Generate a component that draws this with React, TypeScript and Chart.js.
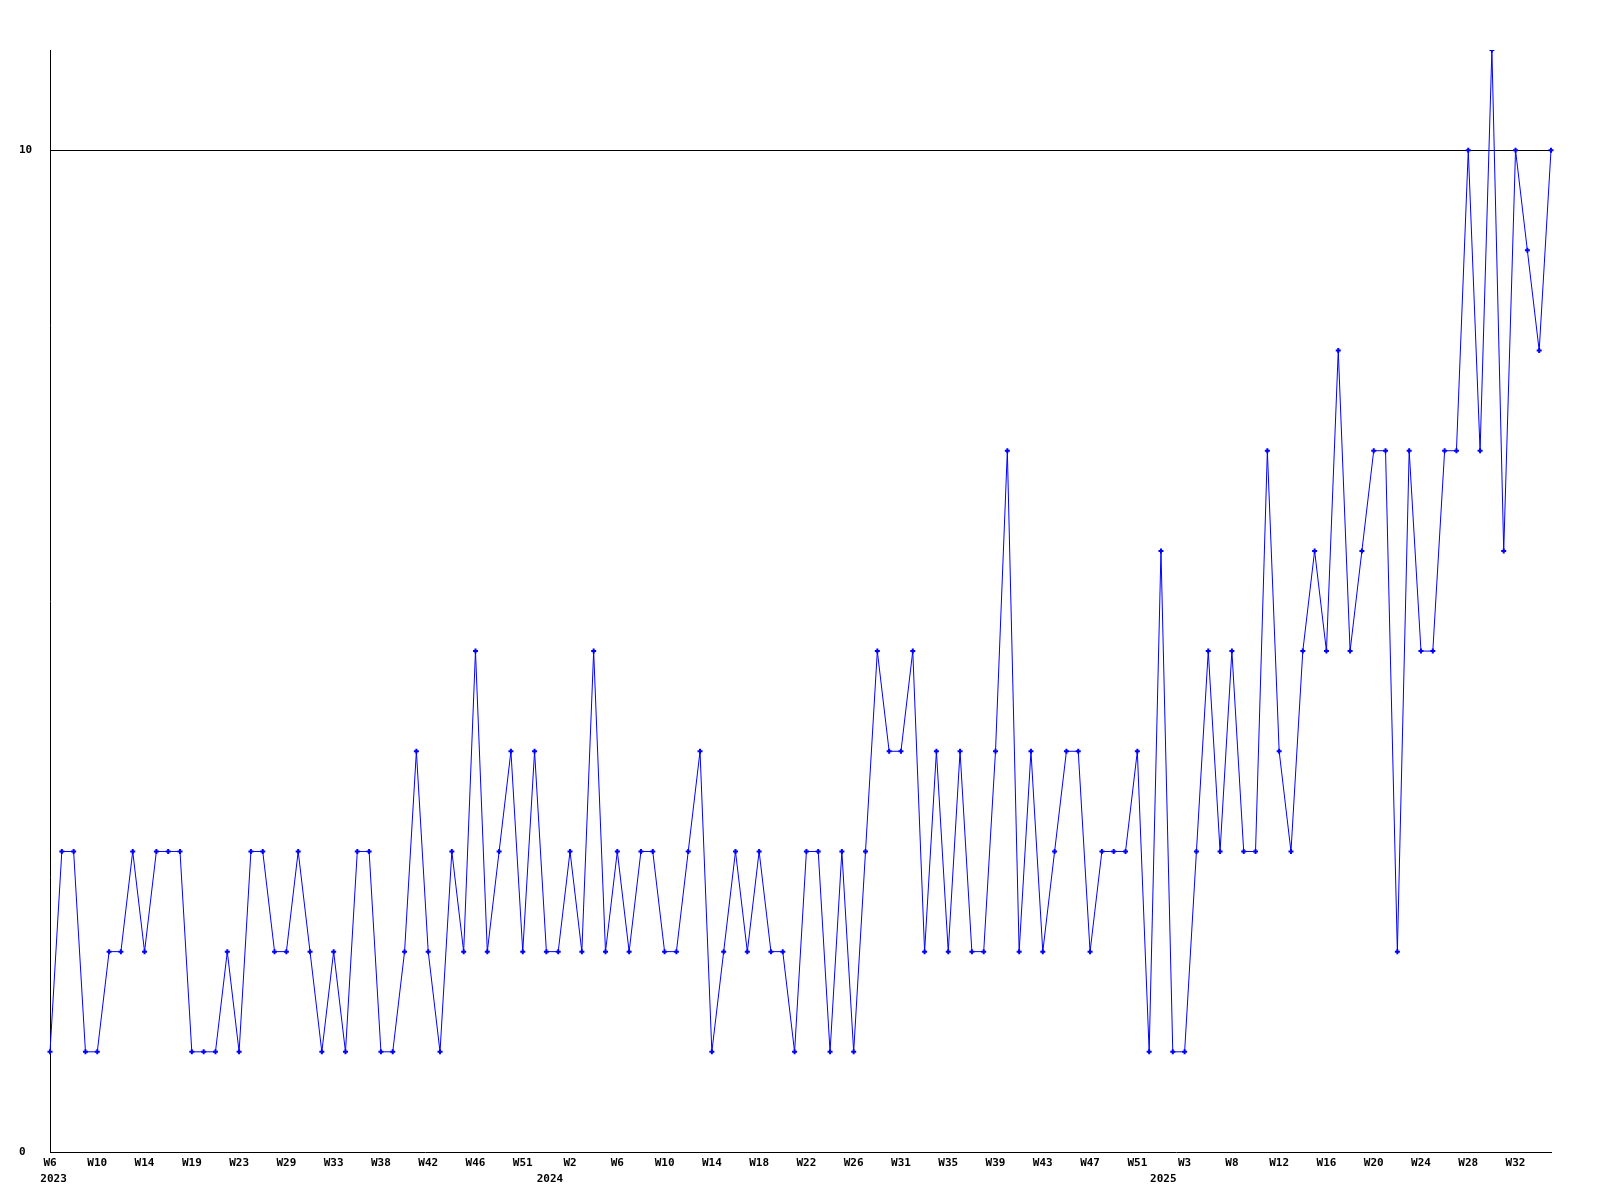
import React, { useEffect, useRef } from "react";
import { Chart, registerables } from "chart.js";

Chart.register(...registerables);

// Weekly values, one per point (128 points)
const values: number[] = [
  1, 3, 3, 1, 1, 2, 2, 3, 2, 3, 3, 3, 1, 1, 1, 2,
  1, 3, 3, 2, 2, 3, 2, 1, 2, 1, 3, 3, 1, 1, 2, 4,
  2, 1, 3, 2, 5, 2, 3, 4, 2, 4, 2, 2, 3, 2, 5, 2,
  3, 2, 3, 3, 2, 2, 3, 4, 1, 2, 3, 2, 3, 2, 2, 1,
  3, 3, 1, 3, 1, 3, 5, 4, 4, 5, 2, 4, 2, 4, 2, 2,
  4, 7, 2, 4, 2, 3, 4, 4, 2, 3, 3, 3, 4, 1, 6, 1,
  1, 3, 5, 3, 5, 3, 3, 7, 4, 3, 5, 6, 5, 8, 5, 6,
  7, 7, 2, 7, 5, 5, 7, 7, 10, 7, 11, 6, 10, 9, 8, 10,
];

// Week labels shown every 4th point
const weekTickLabels: string[] = [
  "W6", "W10", "W14", "W19", "W23", "W29", "W33", "W38", "W42", "W46", "W51",
  "W2", "W6", "W10", "W14", "W18", "W22", "W26", "W31", "W35", "W39", "W43", "W47", "W51",
  "W3", "W8", "W12", "W16", "W20", "W24", "W28", "W32",
];
const tickEvery = 4;

// Year labels and the (fractional) point index they sit under
const yearLabels: string[] = ["2023", "2024", "2025"];
const yearLabelIndex: number[] = [0.3, 42.3, 94.2];

const yTickValues: number[] = [0, 10];
const yMax = 11;

const categories: string[] = values.map((_, i) =>
  i % tickEvery === 0 ? weekTickLabels[i / tickEvery] ?? "" : ""
);

const FONT = "bold 11px 'DejaVu Sans Mono', monospace";

const yearPlugin = {
  id: "yearLabels",
  afterDraw(chart: any) {
    const ctx = chart.ctx;
    const x = chart.scales.x;
    ctx.save();
    ctx.font = FONT;
    ctx.fillStyle = "#000";
    ctx.textAlign = "center";
    ctx.textBaseline = "middle";
    yearLabels.forEach((lab, k) => {
      const px = x.getPixelForValue(yearLabelIndex[k]);
      ctx.fillText(lab, px, x.top + 27);
    });
    ctx.restore();
  },
};

export default function App() {
  const ref = useRef<HTMLCanvasElement | null>(null);
  useEffect(() => {
    if (!ref.current) return;
    const chart = new Chart(ref.current, {
      type: "line",
      data: {
        labels: categories,
        datasets: [
          {
            data: values,
            borderColor: "#0000ff",
            backgroundColor: "#0000ff",
            borderWidth: 1,
            pointStyle: "cross",
            pointRadius: 2.5,
            pointBorderWidth: 2,
            pointBorderColor: "#0000ff",
            tension: 0,
            fill: false,
          },
        ],
      },
      options: {
        responsive: false,
        animation: false,
        layout: { padding: { left: 19, top: 50, right: 49, bottom: 0 } },
        plugins: { legend: { display: false }, tooltip: { enabled: false } },
        scales: {
          x: {
            type: "category",
            offset: false,
            grid: { display: false, drawTicks: false },
            border: { display: true, color: "#000", width: 1 },
            ticks: {
              autoSkip: false,
              maxRotation: 0,
              minRotation: 0,
              padding: 5,
              color: "#000",
              font: { family: "'DejaVu Sans Mono', monospace", size: 11, weight: "bold", lineHeight: 1.2 },
              callback: (_v: any, i: number) => categories[i],
            },
            afterFit: (s: any) => {
              s.height = 48;
            },
          },
          y: {
            min: 0,
            max: yMax,
            grid: {
              drawTicks: false,
              color: (c: any) => (c.tick && c.tick.value === 10 ? "#000" : "rgba(0,0,0,0)"),
              lineWidth: 1,
            },
            border: { display: true, color: "#000", width: 1 },
            ticks: {
              crossAlign: "far",
              padding: 0,
              color: "#000",
              font: { family: "'DejaVu Sans Mono', monospace", size: 11, weight: "bold" },
            },
            afterBuildTicks: (s: any) => {
              s.ticks = yTickValues.map((v) => ({ value: v }));
            },
            afterFit: (s: any) => {
              s.width = 31;
            },
          },
        },
      },
      plugins: [yearPlugin],
    });
    return () => chart.destroy();
  }, []);
  return (
    <div style={{ position: "absolute", left: 0, top: 0, width: 1600, height: 1200, background: "#fff" }}>
      <canvas ref={ref} width={1600} height={1200} style={{ display: "block" }} />
    </div>
  );
}
